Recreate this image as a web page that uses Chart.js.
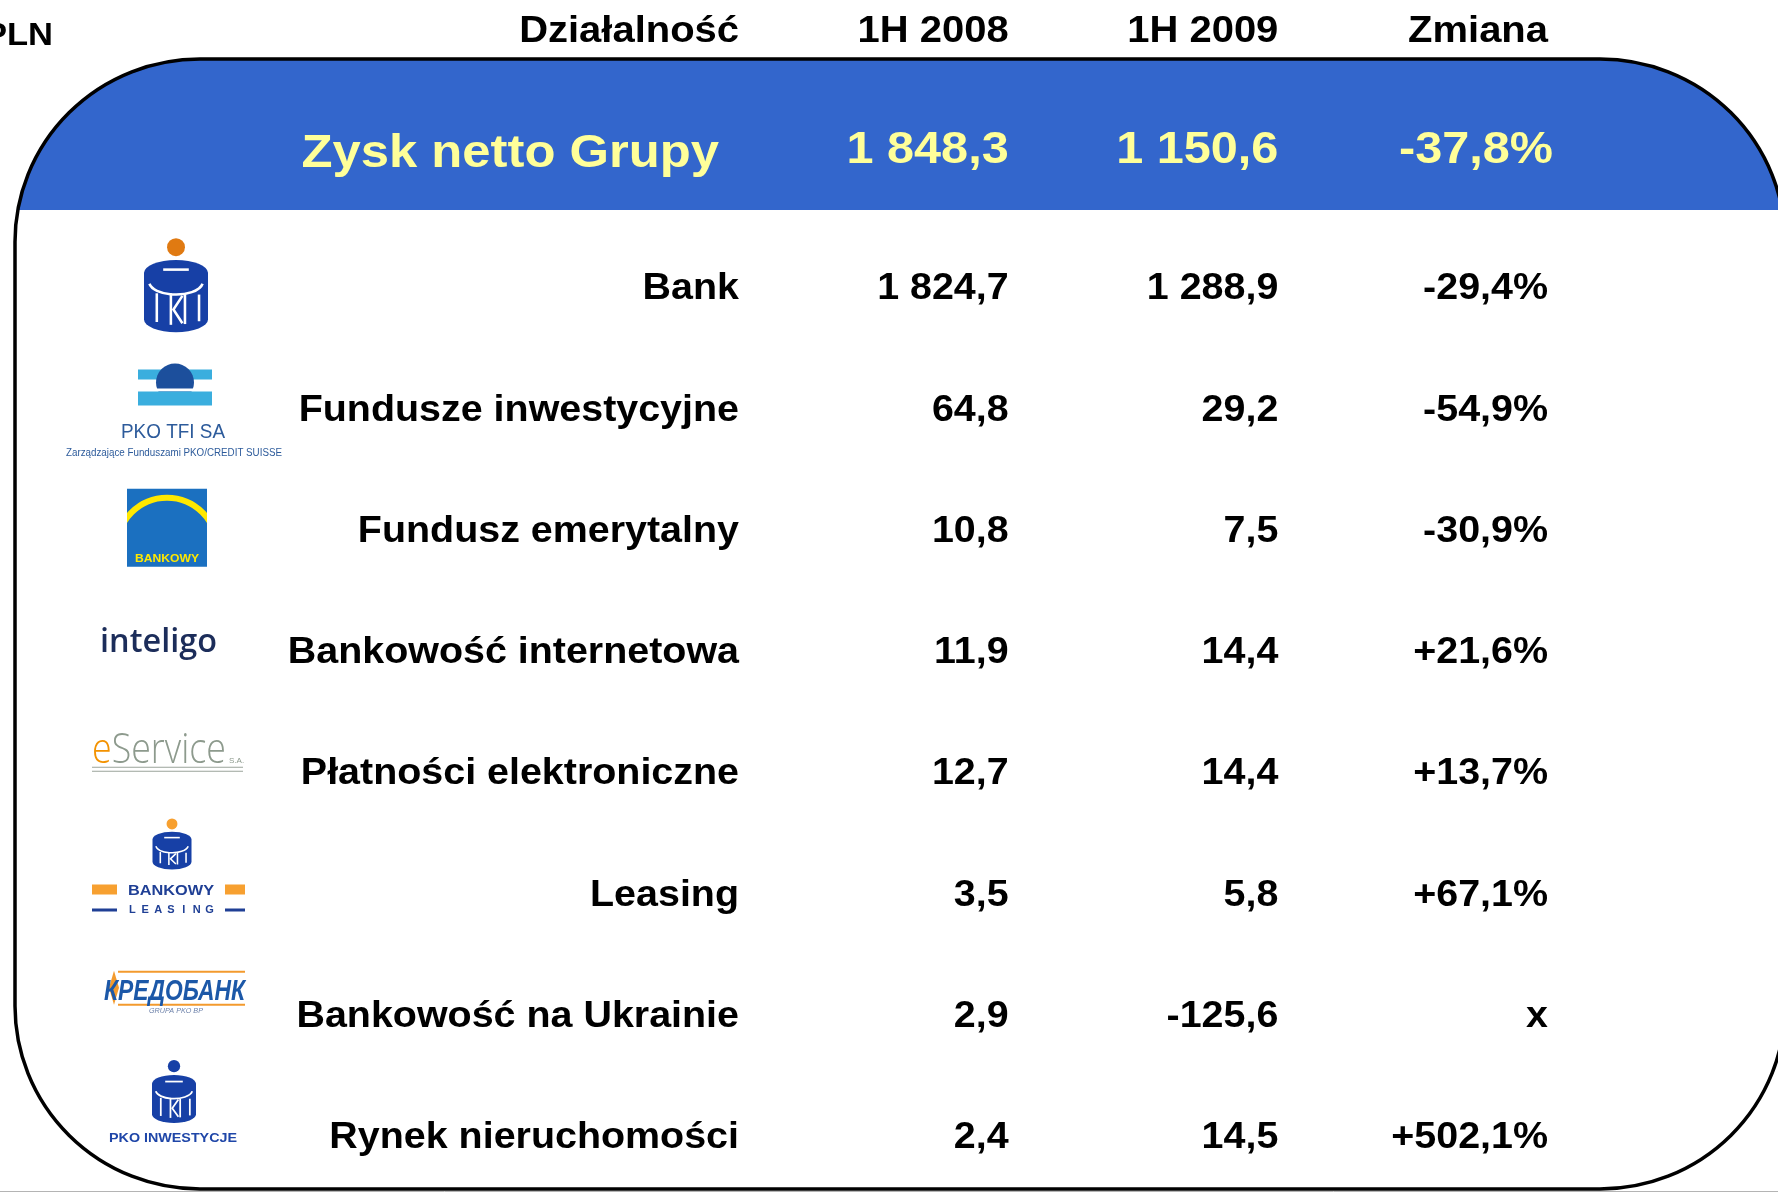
<!DOCTYPE html>
<html>
<head>
<meta charset="utf-8">
<script src="https://cdn.jsdelivr.net/npm/chart.js@4.4.1/dist/chart.umd.min.js"></script>
<style>
  html, body { margin: 0; padding: 0; background: #fff; }
  #wrap { width: 1778px; height: 1192px; position: relative; }
</style>
</head>
<body>
<div id="wrap"><canvas id="tableChart"></canvas></div>
<script>
// Table data
const unitLabel = "mln PLN";
const columns = ["Działalność", "1H 2008", "1H 2009", "Zmiana"];
const rows = [
  "Zysk netto Grupy",
  "Bank",
  "Fundusze inwestycyjne",
  "Fundusz emerytalny",
  "Bankowość internetowa",
  "Płatności elektroniczne",
  "Leasing",
  "Bankowość na Ukrainie",
  "Rynek nieruchomości",
];
const profit2008 = [1848.3, 1824.7, 64.8, 10.8, 11.9, 12.7, 3.5, 2.9, 2.4];
const profit2009 = [1150.6, 1288.9, 29.2, 7.5, 14.4, 14.4, 5.8, -125.6, 14.5];
const changePct = [-37.8, -29.4, -54.9, -30.9, 21.6, 13.7, 67.1, null, 502.1];

const FONT = "'Liberation Sans', Arial, sans-serif";
const STRETCH = 1.08;

const fmtNum = (v) => {
  const parts = Math.abs(v).toFixed(1).split(".");
  const int = parts[0].replace(/\B(?=(\d{3})+(?!\d))/g, " ");
  return (v < 0 ? "-" : "") + int + "," + parts[1];
};
const fmtPct = (v) =>
  v === null ? "x" : (v > 0 ? "+" : "-") + Math.abs(v).toFixed(1).replace(".", ",") + "%";

// draw text stretched horizontally like the original slide
function stretchText(ctx, text, x, y, align, font, color, sx) {
  ctx.save();
  ctx.translate(x, y);
  ctx.scale(sx || STRETCH, 1);
  ctx.font = font;
  ctx.fillStyle = color;
  ctx.textAlign = align;
  ctx.textBaseline = "alphabetic";
  ctx.fillText(text, 0, 0);
  ctx.restore();
}

// text squeezed / stretched to an exact width
function fitText(ctx, text, x, y, width, align, font, color) {
  ctx.save();
  ctx.font = font;
  const w = ctx.measureText(text).width;
  const sx = width / w;
  let x0 = x;
  if (align === "center") x0 = x - width / 2;
  if (align === "right") x0 = x - width;
  ctx.translate(x0, y);
  ctx.scale(sx, 1);
  ctx.fillStyle = color;
  ctx.textAlign = "left";
  ctx.textBaseline = "alphabetic";
  ctx.fillText(text, 0, 0);
  ctx.restore();
}

function spacedText(ctx, text, x0, x1, y, font, color) {
  ctx.save();
  ctx.font = font;
  ctx.fillStyle = color;
  ctx.textAlign = "center";
  const step = (x1 - x0) / text.length;
  for (let i = 0; i < text.length; i++) {
    ctx.fillText(text[i], x0 + step * (i + 0.5), y);
  }
  ctx.restore();
}

function framePath(ctx) {
  const L = 15, T = 59, R = 1785, B = 1189, rx = 185, ry = 183;
  ctx.beginPath();
  ctx.moveTo(L + rx, T);
  ctx.lineTo(R - rx, T);
  ctx.ellipse(R - rx, T + ry, rx, ry, 0, -Math.PI / 2, 0);
  ctx.lineTo(R, B - ry);
  ctx.ellipse(R - rx, B - ry, rx, ry, 0, 0, Math.PI / 2);
  ctx.lineTo(L + rx, B);
  ctx.ellipse(L + rx, B - ry, rx, ry, 0, Math.PI / 2, Math.PI);
  ctx.lineTo(L, T + ry);
  ctx.ellipse(L + rx, T + ry, rx, ry, 0, Math.PI, Math.PI * 1.5);
  ctx.closePath();
}

// PKO "piggy bank" mark
function pkoMark(ctx, cx, top, w, h, dotColor) {
  const dr = w * 0.14;
  ctx.save();
  ctx.fillStyle = dotColor;
  ctx.beginPath();
  ctx.arc(cx, top + dr, dr, 0, Math.PI * 2);
  ctx.fill();
  const bt = top + dr * 2 + w * 0.06;
  const bb = top + h;
  const ey = w * 0.2;
  ctx.fillStyle = "#1740a6";
  ctx.beginPath();
  ctx.ellipse(cx, bt + ey, w / 2, ey, 0, Math.PI, Math.PI * 2);
  ctx.lineTo(cx + w / 2, bb - ey);
  ctx.ellipse(cx, bb - ey, w / 2, ey, 0, 0, Math.PI);
  ctx.closePath();
  ctx.fill();
  ctx.strokeStyle = "#fff";
  ctx.lineWidth = Math.max(1, w * 0.04);
  // slot
  ctx.beginPath();
  ctx.moveTo(cx - w * 0.2, bt + ey * 0.75);
  ctx.lineTo(cx + w * 0.2, bt + ey * 0.75);
  ctx.stroke();
  // rim
  ctx.beginPath();
  ctx.ellipse(cx, bt + ey * 1.7, w / 2 - w * 0.08, ey, 0, Math.PI * 0.05, Math.PI * 0.95);
  ctx.stroke();
  // letters
  const y0 = bt + ey * 2.6, y1 = bb - ey * 0.5;
  [-0.3, -0.08, 0.14, 0.36].forEach((f) => {
    ctx.beginPath();
    ctx.moveTo(cx + w * f, y0 + (f > 0 ? ey * 0.1 : 0));
    ctx.lineTo(cx + w * f, y1 - Math.abs(f) * ey);
    ctx.stroke();
  });
  ctx.beginPath();
  ctx.moveTo(cx + w * 0.1, y0 + ey * 0.2);
  ctx.lineTo(cx - w * 0.04, (y0 + y1) / 2);
  ctx.lineTo(cx + w * 0.1, y1 - ey * 0.2);
  ctx.stroke();
  ctx.restore();
}

function drawLogos(ctx, ys) {
  // Bank
  pkoMark(ctx, 176, ys[1] - 49, 64, 94, "#e07a12");

  // PKO TFI
  let y = ys[2];
  ctx.fillStyle = "#3aaede";
  ctx.fillRect(138, y - 39, 74, 10);
  ctx.fillStyle = "#1c4f9c";
  ctx.beginPath();
  ctx.arc(175, y - 26, 19, 0, Math.PI * 2);
  ctx.fill();
  ctx.fillStyle = "#fff";
  ctx.fillRect(138, y - 20, 74, 3);
  ctx.fillStyle = "#3aaede";
  ctx.fillRect(138, y - 17, 74, 14);
  fitText(ctx, "PKO TFI SA", 173, y + 29, 104, "center", "20px " + FONT, "#2d5b9b");
  fitText(ctx, "Zarządzające Funduszami PKO/CREDIT SUISSE", 174, y + 47, 216, "center", "10px " + FONT, "#2d5b9b");

  // Bankowy OFE
  y = ys[3];
  ctx.save();
  ctx.fillStyle = "#1b70c0";
  ctx.fillRect(127, y - 41, 80, 78);
  ctx.beginPath();
  ctx.rect(127, y - 41, 80, 78);
  ctx.clip();
  ctx.strokeStyle = "#ffe800";
  ctx.lineWidth = 6;
  ctx.beginPath();
  ctx.arc(167, y + 18, 50, Math.PI, Math.PI * 2);
  ctx.stroke();
  ctx.restore();
  fitText(ctx, "BANKOWY", 167, y + 32, 64, "center", "bold 11px " + FONT, "#ffe800");

  // Inteligo
  y = ys[4];
  fitText(ctx, "inteligo", 100, y + 1, 117, "left", "600 33px 'Open Sans', sans-serif", "#1c2d5a");

  // eService
  y = ys[5];
  ctx.save();
  ctx.font = "300 42px 'Open Sans', sans-serif";
  const wE = ctx.measureText("e").width;
  const wS = ctx.measureText("Service").width;
  const sx = 134 / (wE + wS);
  ctx.translate(92, y - 9);
  ctx.scale(sx, 1);
  ctx.fillStyle = "#f39200";
  ctx.fillText("e", 0, 0);
  ctx.fillStyle = "#8d9a8d";
  ctx.fillText("Service", wE, 0);
  ctx.restore();
  ctx.font = "8px " + FONT;
  ctx.fillStyle = "#8d9a8d";
  ctx.textAlign = "left";
  ctx.fillText("S.A.", 229, y - 9);
  ctx.strokeStyle = "#9aa39a";
  ctx.lineWidth = 1.2;
  [y - 5, y - 1].forEach((ly) => {
    ctx.beginPath();
    ctx.moveTo(92, ly);
    ctx.lineTo(243, ly);
    ctx.stroke();
  });

  // Bankowy Leasing
  y = ys[6];
  pkoMark(ctx, 172, y - 75, 39, 51, "#f7a030");
  ctx.fillStyle = "#f7a030";
  ctx.fillRect(92, y - 9, 25, 10);
  ctx.fillRect(225, y - 9, 20, 10);
  ctx.fillStyle = "#1f3f95";
  ctx.fillRect(92, y + 15, 25, 3);
  ctx.fillRect(225, y + 15, 20, 3);
  fitText(ctx, "BANKOWY", 171, y + 1, 86, "center", "bold 14px " + FONT, "#1f3f95");
  spacedText(ctx, "LEASING", 126, 216, y + 19, "bold 11px " + FONT, "#1f3f95");

  // Kredobank
  y = ys[7];
  ctx.strokeStyle = "#f39a2d";
  ctx.lineWidth = 2;
  [y - 43, y - 10].forEach((ly) => {
    ctx.beginPath();
    ctx.moveTo(118, ly);
    ctx.lineTo(245, ly);
    ctx.stroke();
  });
  ctx.fillStyle = "#f39a2d";
  ctx.beginPath();
  ctx.moveTo(114, y - 44);
  ctx.lineTo(119, y - 27);
  ctx.lineTo(114, y - 10);
  ctx.lineTo(109, y - 27);
  ctx.closePath();
  ctx.fill();
  fitText(ctx, "КРЕДОБАНК", 104, y - 15, 141, "left", "italic bold 30px " + FONT, "#1c58a8");
  fitText(ctx, "GRUPA PKO BP", 176, y - 2, 54, "center", "italic 7px " + FONT, "#6a7fa8");

  // PKO Inwestycje
  y = ys[8];
  pkoMark(ctx, 174, y - 76, 44, 63, "#1740a6");
  fitText(ctx, "PKO INWESTYCJE", 173, y + 6, 128, "center", "bold 13px " + FONT, "#1f46a8");
}

const tablePlugin = {
  id: "tableDraw",
  beforeDraw(chart) {
    const ctx = chart.ctx;
    ctx.save();
    ctx.fillStyle = "#fff";
    ctx.fillRect(0, 0, chart.width, chart.height);
    // blue header band, clipped to the rounded frame
    framePath(ctx);
    ctx.clip();
    ctx.fillStyle = "#3366cc";
    ctx.fillRect(0, 0, chart.width, 210);
    ctx.restore();
    ctx.save();
    framePath(ctx);
    ctx.lineWidth = 3.5;
    ctx.strokeStyle = "#000";
    ctx.stroke();
    ctx.strokeStyle = "#b4b4b4";
    ctx.lineWidth = 1;
    ctx.beginPath();
    ctx.moveTo(0, 1191.5);
    ctx.lineTo(chart.width, 1191.5);
    ctx.stroke();
    ctx.restore();
  },
  afterDatasetsDraw(chart) {
    const ctx = chart.ctx;
    const xs = chart.scales.x;
    // unit + column headers
    stretchText(ctx, unitLabel, 53, 45, "right", "bold 32px " + FONT, "#000");
    columns.forEach((c, i) => {
      stretchText(ctx, c, xs.getPixelForValue(i), 42, "right", "bold 37px " + FONT, "#000");
    });
    // cells
    chart.data.datasets.forEach((ds, di) => {
      const meta = chart.getDatasetMeta(di);
      meta.data.forEach((pt, i) => {
        const txt = ds.texts[i];
        if (i === 0) {
          // group total row sits in the blue band
          if (di === 0) {
            stretchText(ctx, txt, pt.x - 20, pt.y + 1, "right", "bold 47px " + FONT, "#ffff99");
          } else {
            const dx = di === 3 ? 5 : 0;
            stretchText(ctx, txt, pt.x + dx, pt.y - 3, "right", "bold 45px " + FONT, "#ffff99");
          }
        } else {
          stretchText(ctx, txt, pt.x, pt.y + 12, "right", "bold 36.5px " + FONT, "#000");
        }
      });
    });
    const ys = chart.getDatasetMeta(0).data.map((p) => p.y);
    drawLogos(ctx, ys);
  },
};

const cellTexts = [
  rows,
  profit2008.map(fmtNum),
  profit2009.map(fmtNum),
  changePct.map(fmtPct),
];

const ctx = document.getElementById("tableChart").getContext("2d");
new Chart(ctx, {
  type: "scatter",
  data: {
    datasets: columns.map((col, c) => ({
      label: col,
      data: rows.map((r) => ({ x: col, y: r })),
      texts: cellTexts[c],
      pointRadius: 0,
      pointHoverRadius: 0,
    })),
  },
  options: {
    responsive: true,
    maintainAspectRatio: false,
    animation: false,
    events: [],
    layout: {
      padding: { left: 739, right: 230, top: 166, bottom: 56 },
    },
    plugins: {
      legend: { display: false },
      tooltip: { enabled: false },
    },
    scales: {
      x: {
        type: "category",
        labels: columns,
        offset: false,
        display: false,
      },
      y: {
        type: "category",
        labels: rows,
        offset: false,
        display: false,
      },
    },
  },
  plugins: [tablePlugin],
});
</script>
</body>
</html>
